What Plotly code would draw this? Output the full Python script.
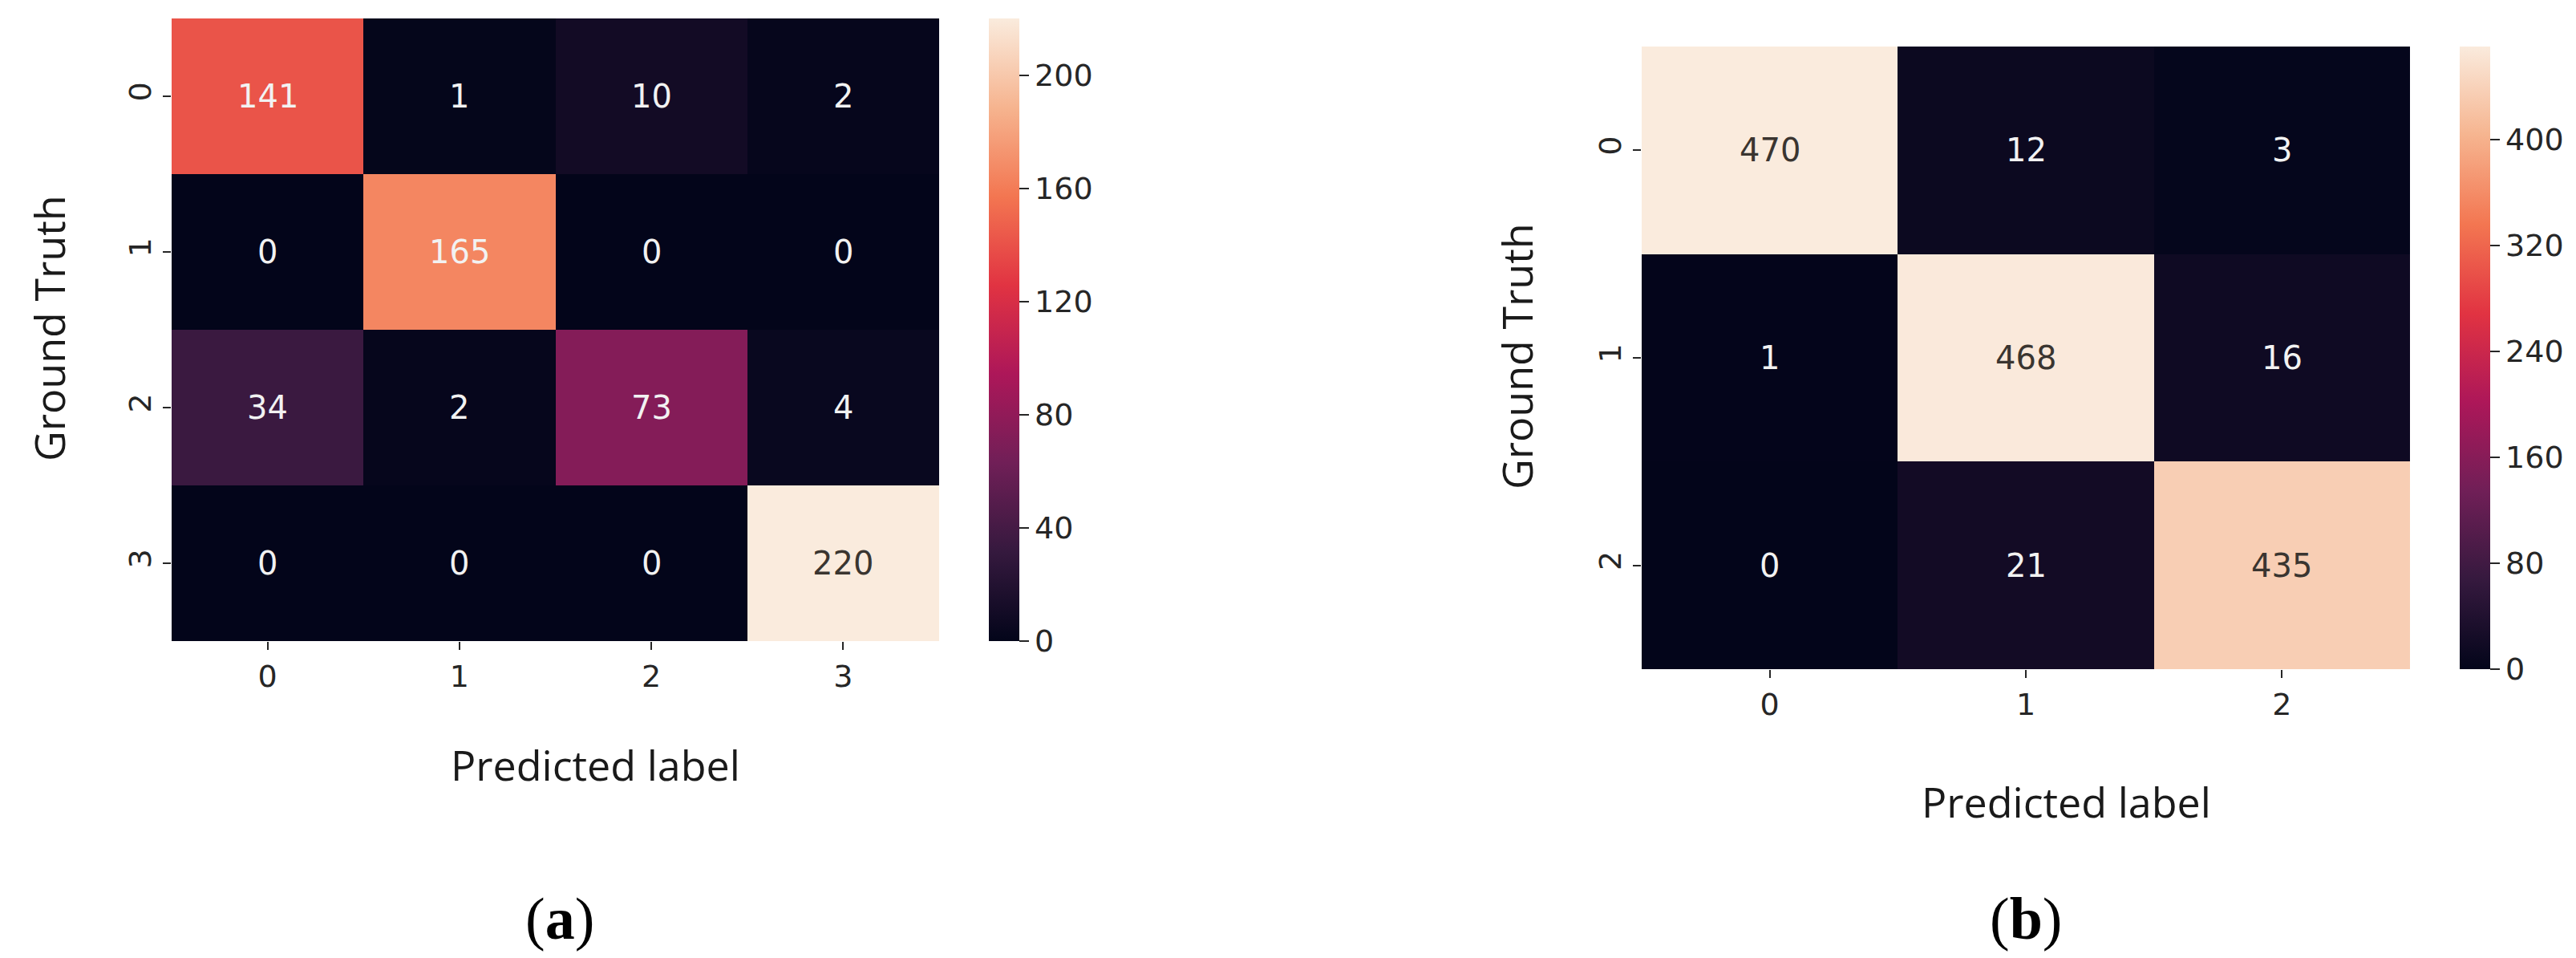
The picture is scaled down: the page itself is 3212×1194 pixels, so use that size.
import plotly.graph_objects as go

W, H = 3212, 1194

# ---- data ----
labels_a = ["0", "1", "2", "3"]
cm_a = [
    [141, 1, 10, 2],
    [0, 165, 0, 0],
    [34, 2, 73, 4],
    [0, 0, 0, 220],
]
cbar_ticks_a = [0, 40, 80, 120, 160, 200]

labels_b = ["0", "1", "2"]
cm_b = [
    [470, 12, 3],
    [1, 468, 16],
    [0, 21, 435],
]
cbar_ticks_b = [0, 80, 160, 240, 320, 400]

x_title = "Predicted label"
y_title = "Ground Truth"
panel_a = "(<b>a</b>)"
panel_b = "(<b>b</b>)"

# seaborn "rocket" colormap approximation
rocket = [
    [0.0, "#03051a"],
    [0.143, "#35193e"],
    [0.286, "#701f57"],
    [0.429, "#ad1759"],
    [0.571, "#e13342"],
    [0.714, "#f37651"],
    [0.857, "#f6b48f"],
    [1.0, "#faebdd"],
]

def px(x):
    return x / W

def py(y):
    return 1 - y / H

TICK_COLOR = "#262626"
TICK_FONT = dict(family="DejaVu Sans", size=38, color=TICK_COLOR)
TITLE_FONT = dict(family="Open Sans", size=52, color="#1a1a1a")

# panel geometry (pixels)
A = dict(x0=206, x1=1163, y0=15, y1=791, cb=1225)
B = dict(x0=2039, x1=2997, y0=50, y1=826, cb=3059)

fig = go.Figure()

def add_panel(z, labels, ticks, geo, xa, ya, zmax):
    fig.add_trace(go.Heatmap(
        z=z, x=labels, y=labels, xaxis=xa, yaxis=ya,
        colorscale=rocket, zmin=0, zmax=zmax,
        hoverinfo="skip",
        colorbar=dict(
            x=px(geo["cb"]), xanchor="left", xpad=0,
            y=py((geo["y0"] + geo["y1"]) / 2), yanchor="middle", ypad=0,
            len=(geo["y1"] - geo["y0"]) / H, lenmode="fraction",
            thickness=38, thicknessmode="pixels",
            outlinewidth=0,
            tickmode="array", tickvals=ticks,
            ticks="outside", ticklen=12, tickwidth=2, tickcolor=TICK_COLOR,
            tickfont=TICK_FONT,
        ),
    ))
    # cell annotations
    for i, row in enumerate(z):
        for j, v in enumerate(row):
            color = "#f2f2f2" if v / zmax < 0.8 else "#3a3530"
            fig.add_annotation(
                x=labels[j], y=labels[i], xref=xa, yref=ya,
                text=str(v), showarrow=False,
                font=dict(family="DejaVu Sans", size=40, color=color),
            )

add_panel(cm_a, labels_a, cbar_ticks_a, A, "x", "y", 220)
add_panel(cm_b, labels_b, cbar_ticks_b, B, "x2", "y2", 470)

axis_common = dict(
    ticks="outside", ticklen=10, tickwidth=2, tickcolor=TICK_COLOR,
    tickfont=TICK_FONT, showgrid=False, zeroline=False, showline=False,
    type="category",
)

fig.update_layout(
    width=W, height=H,
    margin=dict(l=0, r=0, t=0, b=0),
    paper_bgcolor="white", plot_bgcolor="white",
    showlegend=False,
    xaxis=dict(domain=[px(A["x0"]), px(A["x1"])], anchor="y", **axis_common),
    yaxis=dict(domain=[py(A["y1"]), py(A["y0"])], anchor="x",
               autorange="reversed", tickangle=-90, **axis_common),
    xaxis2=dict(domain=[px(B["x0"]), px(B["x1"])], anchor="y2", **axis_common),
    yaxis2=dict(domain=[py(B["y1"]), py(B["y0"])], anchor="x2",
                autorange="reversed", tickangle=-90, **axis_common),
)

# axis titles and panel labels
texts = [
    (x_title, 734, 944, 0, TITLE_FONT),
    (x_title, 2568, 990, 0, TITLE_FONT),
    (y_title, 52, 401, -90, TITLE_FONT),
    (y_title, 1882, 436, -90, TITLE_FONT),
    (panel_a, 690, 1137, 0, dict(family="Liberation Serif", size=74, color="black")),
    (panel_b, 2518, 1137, 0, dict(family="Liberation Serif", size=74, color="black")),
]
for t, x, y, ang, f in texts:
    fig.add_annotation(
        x=px(x), y=py(y), xref="paper", yref="paper",
        text=t, showarrow=False, textangle=ang,
        xanchor="center", yanchor="middle", font=f,
    )

fig.write_html("out.html")
